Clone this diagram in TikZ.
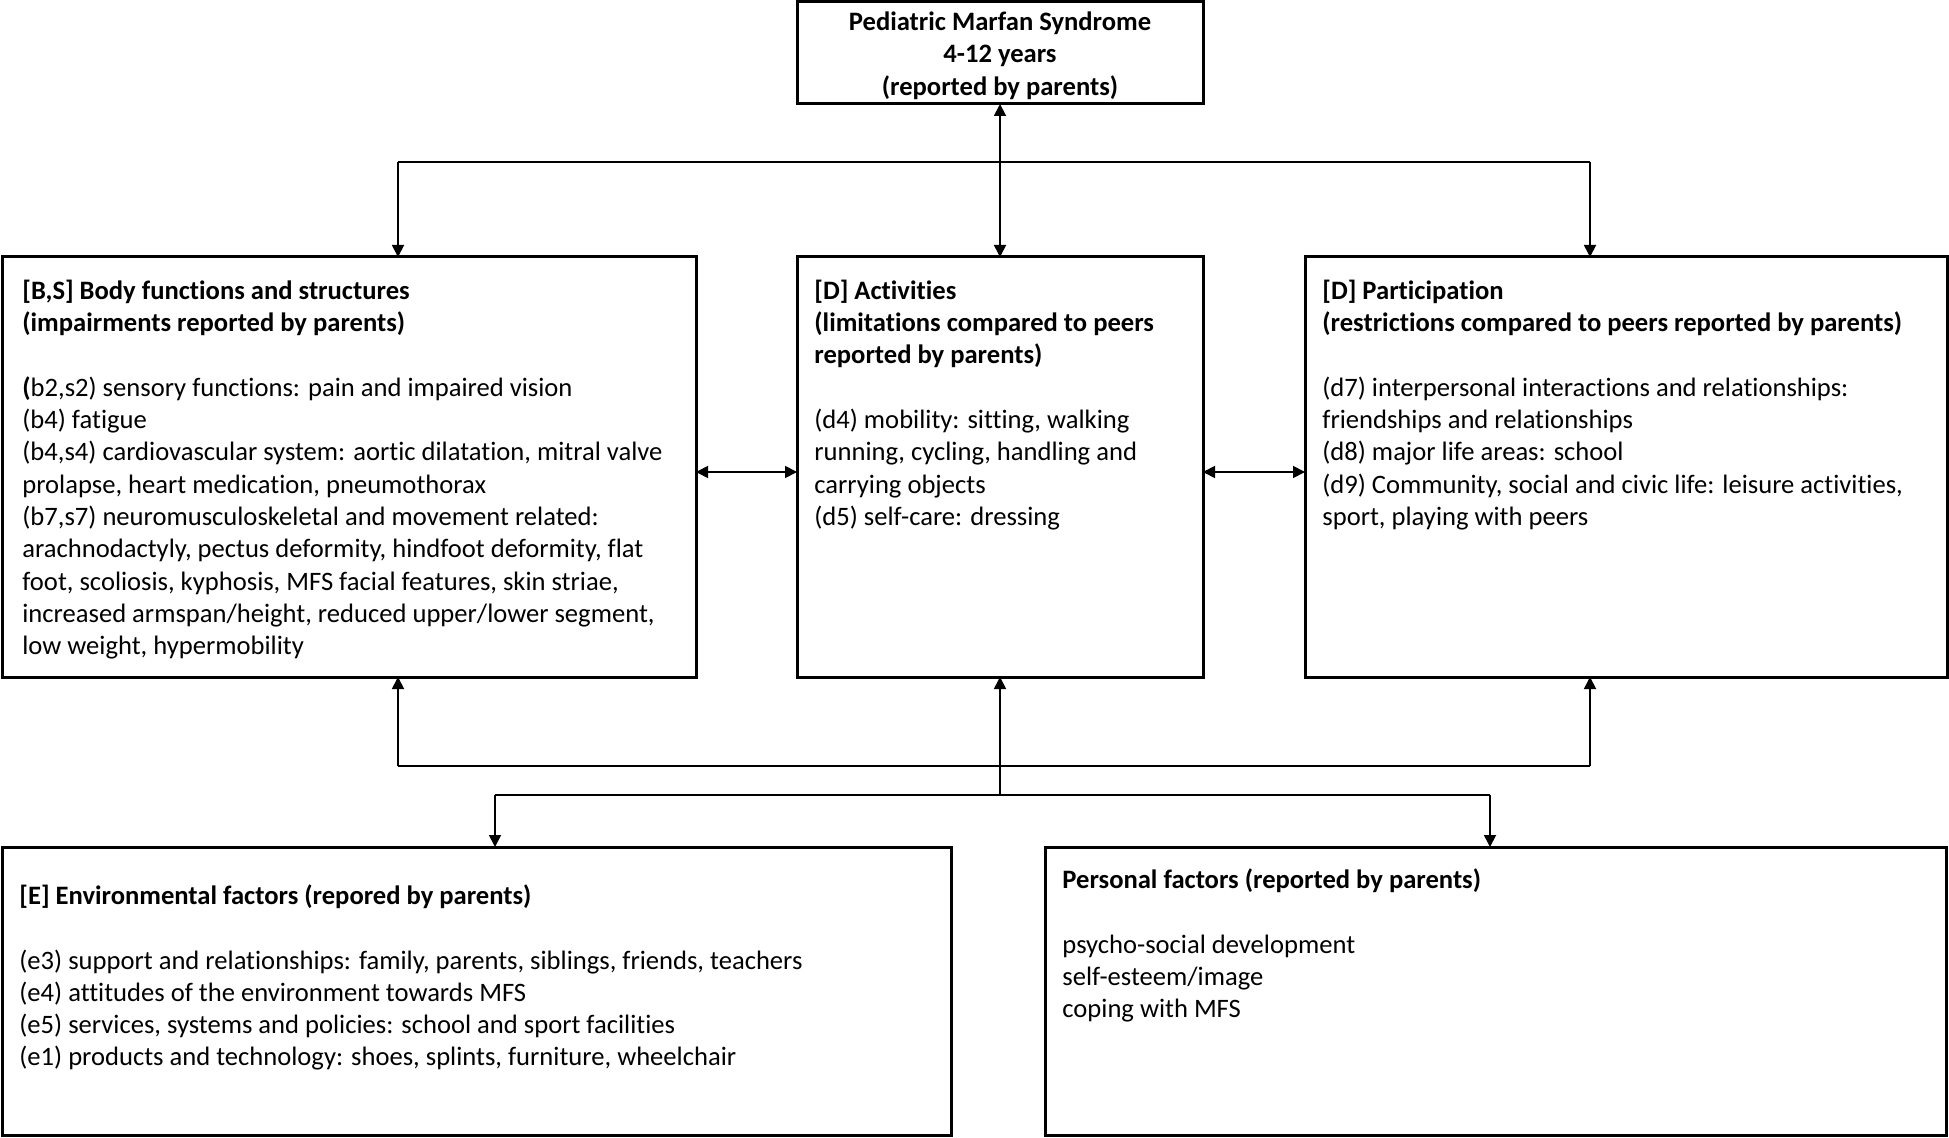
\documentclass[tikz,border=0pt]{standalone}
\usepackage{fontspec}
\setmainfont[Ligatures=NoCommon]{Carlito}
\usetikzlibrary{arrows.meta}
\begin{document}
\begin{tikzpicture}[x=0.5pt,y=-0.5pt,
  box/.style={draw, line width=1.5pt, inner sep=0pt, outer sep=0pt, anchor=north west},
  txt/.style={inner sep=0pt, anchor=north west, align=left, font=\fontsize{13.3}{16.15}\selectfont},
  ttl/.style={inner sep=0pt, anchor=north, align=center, font=\fontsize{13.3}{16.3}\selectfont\bfseries},
  conn/.style={line width=0.9pt},
  arr/.style={conn, -{Triangle[length=6pt,width=6pt]}},
  darr/.style={conn, {Triangle[length=6pt,width=6pt]}-{Triangle[length=6pt,width=6pt]}}]
\useasboundingbox (0,0) rectangle (1949,1138);
% boxes
\node[box, minimum width=203pt, minimum height=51pt] (top) at (797,2) {};
\node[box, minimum width=347pt, minimum height=210pt] (bs) at (2,257) {};
\node[box, minimum width=203pt, minimum height=210pt] (act) at (797,257) {};
\node[box, minimum width=321pt, minimum height=210pt] (par) at (1305,257) {};
\node[box, minimum width=474.5pt, minimum height=144pt] (env) at (2,847) {};
\node[box, minimum width=450.5pt, minimum height=144pt] (per) at (1045,847) {};
% texts
\node[ttl] (toptxt) at (1000,6) {\rule{0pt}{12pt}Pediatric Marfan Syndrome\\4-12 years\\(reported by parents)};
\node[txt] (bstxt) at (22,275) {\rule{0pt}{12pt}\textbf{[B,S] Body functions and structures}\\
\textbf{(impairments reported by parents)}\\[16.15pt]
\textbf{(}b2,s2) sensory functions: pain and impaired vision\\
(b4) fatigue\\
(b4,s4) cardiovascular system: aortic dilatation, mitral valve\\
prolapse, heart medication, pneumothorax\\
(b7,s7) neuromusculoskeletal and movement related:\\
arachnodactyly, pectus deformity, hindfoot deformity, flat\\
foot, scoliosis, kyphosis, MFS facial features, skin striae,\\
increased armspan/height, reduced upper/lower segment,\\
low weight, hypermobility};
\node[txt] (acttxt) at (814,275) {\rule{0pt}{12pt}\textbf{[D] Activities}\\
\textbf{(limitations compared to peers}\\
\textbf{reported by parents)}\\[16.15pt]
(d4) mobility: sitting, walking\\
running, cycling, handling and\\
carrying objects\\
(d5) self-care: dressing};
\node[txt] (partxt) at (1322,275) {\rule{0pt}{12pt}\textbf{[D] Participation}\\
\textbf{(restrictions compared to peers reported by parents)}\\[16.15pt]
(d7) interpersonal interactions and relationships:\\
friendships and relationships\\
(d8) major life areas: school\\
(d9) Community, social and civic life: leisure activities,\\
sport, playing with peers};
\node[txt] (envtxt) at (19,880) {\rule{0pt}{12pt}\textbf{[E] Environmental factors (repored by parents)}\\[16.15pt]
(e3) support and relationships: family, parents, siblings, friends, teachers\\
(e4) attitudes of the environment towards MFS\\
(e5) services, systems and policies: school and sport facilities\\
(e1) products and technology: shoes, splints, furniture, wheelchair};
\node[txt] (pertxt) at (1062,864) {\rule{0pt}{12pt}\textbf{Personal factors (reported by parents)}\\[16.15pt]
psycho-social development\\
self-esteem/image\\
coping with MFS};
% upper connectors
\coordinate (tl) at (398,162);
\coordinate (tr) at (1590,162);
\draw[conn] (tl) -- (tr);
\draw[arr] (tl) -- (tl |- bs.north);
\draw[arr] (tr) -- (tr |- par.north);
\draw[darr] (top.south) -- (act.north);
\draw[darr] ([yshift=-2.5pt]bs.east) -- ([yshift=-2.5pt]act.west);
\draw[darr] ([yshift=-2.5pt]act.east) -- ([yshift=-2.5pt]par.west);
% lower connectors
\coordinate (bl) at (398,766);
\coordinate (br) at (1590,766);
\draw[conn] (bl) -- (br);
\draw[arr] (bl) -- (bl |- bs.south);
\draw[arr] (br) -- (br |- par.south);
\coordinate (el) at (495,795);
\coordinate (pr) at (1490,795);
\coordinate (bc) at (act.south |- el);
\draw[arr] (bc) -- (act.south);
\draw[conn] (el) -- (pr);
\draw[arr] (el) -- (el |- env.north);
\draw[arr] (pr) -- (pr |- per.north);
\end{tikzpicture}
\end{document}
